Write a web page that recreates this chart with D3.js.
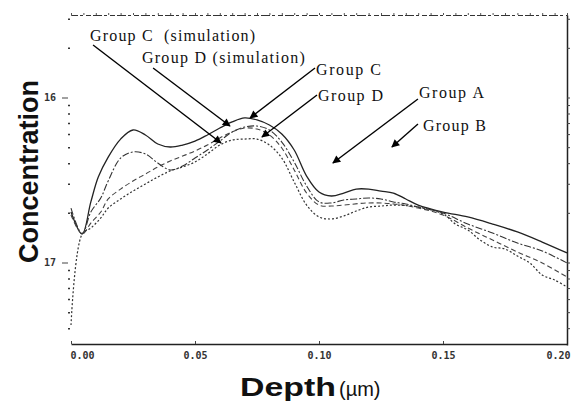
<!DOCTYPE html>
<html>
<head>
<meta charset="utf-8">
<script src="https://cdn.jsdelivr.net/npm/d3@7"></script>
<style>
  body { margin: 0; background: #fff; }
  svg { display: block; }
  .tick text { font-family: "DejaVu Sans Mono", monospace; font-size: 10px; font-weight: bold; fill: #333; }
  .ann { font-family: "Liberation Serif", "DejaVu Serif", serif; font-size: 16px; fill: #111; }
</style>
</head>
<body>
<svg id="chart" width="573" height="403"></svg>
<script>
// depth (um) vs concentration (log exponent)
const groupC = [[0, 16.694], [0.0045, 16.827], [0.008, 16.633], [0.011, 16.482], [0.015, 16.361],
  [0.02, 16.252], [0.025, 16.197], [0.03, 16.227], [0.035, 16.282], [0.04, 16.3], [0.045, 16.288],
  [0.05, 16.264], [0.055, 16.227], [0.06, 16.185], [0.065, 16.148], [0.07, 16.124], [0.075, 16.136],
  [0.08, 16.167], [0.085, 16.221], [0.09, 16.318], [0.095, 16.476], [0.1, 16.573], [0.105, 16.597],
  [0.11, 16.579], [0.115, 16.555], [0.12, 16.555], [0.125, 16.567], [0.13, 16.579], [0.135, 16.615],
  [0.14, 16.652], [0.15, 16.694], [0.16, 16.724], [0.17, 16.767], [0.18, 16.815], [0.19, 16.876],
  [0.2, 16.942]];

const groupD = [[0, 16.67], [0.0045, 16.827], [0.008, 16.694], [0.012, 16.609], [0.015, 16.506],
  [0.02, 16.367], [0.025, 16.33], [0.03, 16.342], [0.035, 16.397], [0.04, 16.439], [0.045, 16.415],
  [0.05, 16.367], [0.055, 16.318], [0.06, 16.264], [0.065, 16.209], [0.07, 16.179], [0.075, 16.173],
  [0.08, 16.197], [0.085, 16.27], [0.09, 16.391], [0.095, 16.536], [0.1, 16.633], [0.105, 16.639],
  [0.11, 16.621], [0.115, 16.615], [0.12, 16.609], [0.125, 16.615], [0.13, 16.633], [0.135, 16.645],
  [0.14, 16.664], [0.15, 16.7], [0.16, 16.767], [0.17, 16.821], [0.18, 16.882], [0.19, 16.93],
  [0.2, 17.003]];

const groupDSim = [[0, 16.712], [0.0045, 16.827], [0.008, 16.761], [0.012, 16.694], [0.015, 16.615],
  [0.02, 16.555], [0.025, 16.506], [0.03, 16.464], [0.035, 16.421], [0.04, 16.385], [0.045, 16.355],
  [0.05, 16.324], [0.055, 16.288], [0.06, 16.245], [0.065, 16.209], [0.07, 16.185], [0.075, 16.191],
  [0.08, 16.227], [0.085, 16.306], [0.09, 16.439], [0.095, 16.579], [0.1, 16.652], [0.105, 16.658],
  [0.11, 16.652], [0.12, 16.639], [0.13, 16.645], [0.14, 16.67], [0.15, 16.712], [0.16, 16.791],
  [0.17, 16.864], [0.18, 16.936], [0.19, 17.003], [0.2, 17.088]];

const groupCSim = [[0, 17.379], [0.0045, 16.827], [0.008, 16.791], [0.012, 16.73], [0.015, 16.67],
  [0.02, 16.615], [0.025, 16.567], [0.03, 16.524], [0.035, 16.482], [0.04, 16.445], [0.045, 16.421],
  [0.05, 16.391], [0.055, 16.342], [0.06, 16.288], [0.065, 16.258], [0.07, 16.252], [0.075, 16.252],
  [0.08, 16.288], [0.085, 16.367], [0.09, 16.512], [0.095, 16.652], [0.1, 16.724], [0.105, 16.736],
  [0.11, 16.718], [0.115, 16.688], [0.12, 16.664], [0.125, 16.658], [0.13, 16.652], [0.14, 16.664],
  [0.15, 16.706], [0.155, 16.767], [0.16, 16.803], [0.165, 16.864], [0.17, 16.906], [0.175, 16.918],
  [0.18, 16.961], [0.185, 17.003], [0.19, 17.076], [0.195, 17.106], [0.2, 17.148]];

const depthTicks = [0, 0.05, 0.1, 0.15, 0.2];
const depthTickLabels = ["0.00", "0.05", "0.10", "0.15", "0.20"];
const concTicks = [16, 17];
const minorMultipliers = [2, 3, 4, 5, 6, 7, 8, 9];

// label text, text anchor point, arrow start, arrow tip (data units)
const annotations = [
  { text: "Group C  (simulation)", tx: 0.0077, ty: 15.658, x0: 0.0089, y0: 15.682, x1: 0.0605, y1: 16.276, len: 165 },
  { text: "Group D (simulation)", tx: 0.0286, ty: 15.791, x0: 0.0331, y0: 15.821, x1: 0.0641, y1: 16.173, len: 163 },
  { text: "Group C", tx: 0.0988, ty: 15.864, x0: 0.0984, y0: 15.821, x1: 0.0722, y1: 16.124, len: 65 },
  { text: "Group D", tx: 0.0996, ty: 16.021, x0: 0.0992, y0: 15.985, x1: 0.077, y1: 16.239, len: 65 },
  { text: "Group A", tx: 0.1403, ty: 16.003, x0: 0.1399, y0: 16.009, x1: 0.1056, y1: 16.397, len: 65 },
  { text: "Group B", tx: 0.1419, ty: 16.203, x0: 0.1399, y0: 16.161, x1: 0.1294, y1: 16.3, len: 63 }
];

const svg = d3.select("#chart");
const plotLeft = 71, plotRight = 567, plotTop = 15, plotBottom = 345;

const x = d3.scaleLinear().domain([0, 0.2]).range([plotLeft, plotRight]);
const y = d3.scaleLinear().domain([15.5, 17.5]).range([plotTop, plotBottom]);

const minorConc = [15, 16, 17]
  .flatMap((dec) => minorMultipliers.map((k) => dec + 1 - Math.log10(k)))
  .filter((v) => v > 15.5 && v < 17.5);

svg.append("defs").append("marker")
  .attr("id", "head")
  .attr("viewBox", "0 0 10 10")
  .attr("refX", 9).attr("refY", 5)
  .attr("markerWidth", 11).attr("markerHeight", 8)
  .attr("markerUnits", "userSpaceOnUse")
  .attr("orient", "auto")
  .append("path")
  .attr("d", "M0,0 L10,5 L0,10 Z")
  .attr("fill", "#000");

// bottom axis
const xAxis = svg.append("g")
  .attr("transform", `translate(0,${plotBottom - 1})`)
  .call(d3.axisBottom(x).tickValues(depthTicks).tickSizeInner(-3).tickSizeOuter(0)
    .tickPadding(8).tickFormat((d, i) => depthTickLabels[i]));
xAxis.select(".domain").attr("stroke", "#222").attr("stroke-width", 1.6);
xAxis.selectAll(".tick line").attr("stroke", "#444");
xAxis.selectAll(".tick text")
  .attr("dx", (d, i) => (i === 0 ? 11 : i === depthTicks.length - 1 ? -9 : 0));

// top axis, broken dashed line
const topAxis = svg.append("g")
  .attr("transform", `translate(0,${plotTop})`)
  .call(d3.axisTop(x).tickValues(d3.range(0, 0.2001, 0.005)).tickSize(2).tickFormat(""));
topAxis.select(".domain").attr("stroke", "#333").attr("stroke-dasharray", "9,2,3,3,5,2");
topAxis.selectAll(".tick line").attr("stroke", "#555");

// left axis: dotted minor ticks only
const yAxis = svg.append("g")
  .attr("transform", `translate(${plotLeft - 1},0)`)
  .call(d3.axisLeft(y).tickValues(concTicks).tickSize(6).tickPadding(6).tickFormat(d3.format("d")));
yAxis.select(".domain").remove();
yAxis.selectAll(".tick line").attr("stroke", "#444").attr("transform", "translate(-2,0)");
yAxis.selectAll(".tick text").attr("dx", -2);
svg.append("g")
  .attr("transform", `translate(${plotLeft - 1},0)`)
  .call(d3.axisLeft(y).tickValues(minorConc).tickSize(2).tickFormat(""))
  .call((g) => g.select(".domain").remove())
  .selectAll(".tick line").attr("stroke", "#333").attr("stroke-width", 1.5);

// right axis
const rAxis = svg.append("g")
  .attr("transform", `translate(${plotRight},0)`)
  .call(d3.axisRight(y).tickValues(minorConc.concat(concTicks)).tickSize(3).tickSizeOuter(0).tickFormat(""));
rAxis.select(".domain").attr("stroke", "#222").attr("stroke-width", 1.5);
rAxis.selectAll(".tick line").attr("stroke", "#444");

// profiles
const line = d3.line().x((d) => x(d[0])).y((d) => y(d[1])).curve(d3.curveCatmullRom);
const series = [
  { data: groupC, dash: null, w: 1.3, c: "#222" },
  { data: groupD, dash: "7,2,2,2", w: 1.1, c: "#333" },
  { data: groupDSim, dash: "5,3", w: 1.1, c: "#444" },
  { data: groupCSim, dash: "2,2", w: 1.2, c: "#333" }
];
svg.append("g").selectAll("path")
  .data(series)
  .join("path")
  .attr("fill", "none")
  .attr("stroke", (d) => d.c)
  .attr("stroke-width", (d) => d.w)
  .attr("stroke-dasharray", (d) => d.dash)
  .attr("d", (d) => line(d.data));

// annotations
const ann = svg.append("g");
ann.selectAll("line")
  .data(annotations)
  .join("line")
  .attr("x1", (d) => x(d.x0)).attr("y1", (d) => y(d.y0))
  .attr("x2", (d) => x(d.x1)).attr("y2", (d) => y(d.y1))
  .attr("stroke", "#000").attr("stroke-width", 1.4)
  .attr("marker-end", "url(#head)");
ann.selectAll("text")
  .data(annotations)
  .join("text")
  .attr("class", "ann")
  .attr("x", (d) => x(d.tx)).attr("y", (d) => y(d.ty))
  .attr("textLength", (d) => d.len)
  .attr("lengthAdjust", "spacing")
  .attr("xml:space", "preserve")
  .text((d) => d.text);

// axis titles
svg.append("text")
  .attr("transform", "translate(38,263) rotate(-90)")
  .attr("font-family", "Liberation Sans, Arial, sans-serif")
  .attr("font-weight", "bold")
  .attr("font-size", 28)
  .attr("textLength", 183)
  .attr("lengthAdjust", "spacingAndGlyphs")
  .attr("fill", "#111")
  .text("Concentration");

const xt = svg.append("text")
  .attr("x", 240).attr("y", 396)
  .attr("font-family", "Liberation Sans, Arial, sans-serif")
  .attr("fill", "#111");
xt.append("tspan").attr("font-weight", "bold").attr("font-size", 26)
  .attr("textLength", 96).attr("lengthAdjust", "spacingAndGlyphs").text("Depth");
xt.append("tspan").attr("font-size", 20).attr("dx", 3).text("(\u00b5m)");
</script>
</body>
</html>
